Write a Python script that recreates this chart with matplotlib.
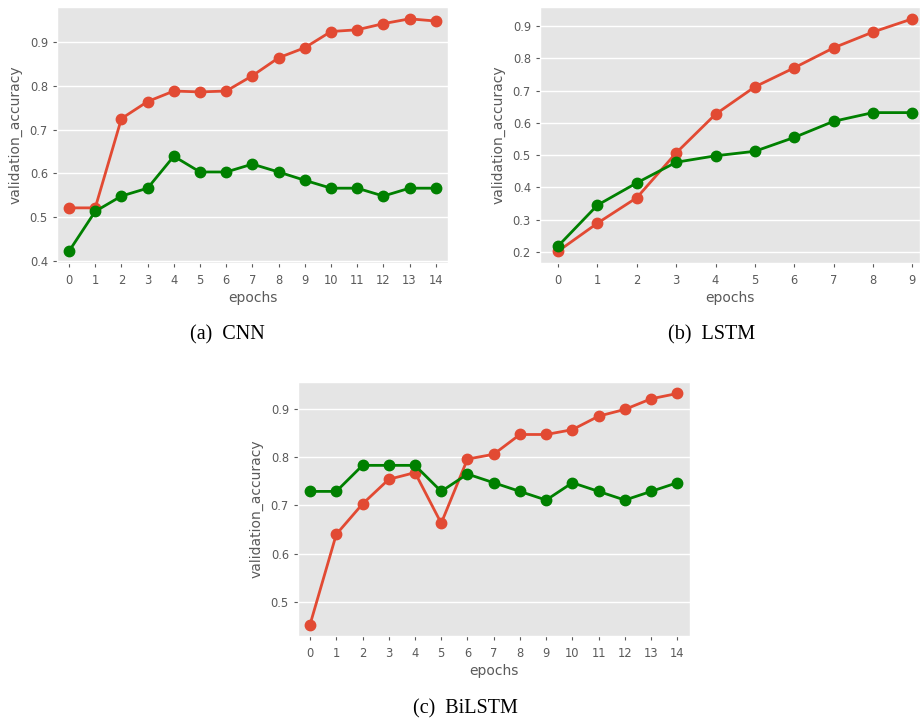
import numpy as np
import matplotlib
matplotlib.use('Agg')
import matplotlib.pyplot as plt

# validation accuracy
cnn_red = [0.521, 0.521, 0.725, 0.764, 0.788, 0.786, 0.788, 0.823, 0.864, 0.887,
           0.924, 0.928, 0.942, 0.953, 0.948]
cnn_green = [0.422, 0.513, 0.548, 0.566, 0.639, 0.603, 0.603, 0.621, 0.603, 0.584,
             0.566, 0.566, 0.548, 0.566, 0.566]

lstm_red = [0.202, 0.289, 0.368, 0.507, 0.627, 0.712, 0.771, 0.833, 0.882, 0.923]
lstm_green = [0.218, 0.345, 0.414, 0.478, 0.498, 0.512, 0.555, 0.605, 0.632, 0.632]

bilstm_red = [0.453, 0.640, 0.703, 0.754, 0.768, 0.663, 0.796, 0.806, 0.847, 0.847,
              0.857, 0.885, 0.899, 0.921, 0.932]
bilstm_green = [0.729, 0.729, 0.783, 0.783, 0.783, 0.729, 0.765, 0.747, 0.729, 0.711,
                0.747, 0.729, 0.711, 0.729, 0.747]

captions = ['(a)  CNN', '(b)  LSTM', '(c)  BiLSTM']

plt.style.use('ggplot')

fig = plt.figure(figsize=(9.22, 7.22), dpi=100)
fig.patch.set_facecolor('white')

ax_a = fig.add_axes([0.0618, 0.636, 0.4242, 0.354])
ax_b = fig.add_axes([0.5857, 0.636, 0.4123, 0.354])
ax_c = fig.add_axes([0.3232, 0.119, 0.4248, 0.352])


def draw(ax, red, green, right=None):
    x = np.arange(len(red))
    ax.plot(x, red, '-o', color='#E24A33', lw=2.0, markersize=7.5)
    ax.plot(x, green, '-o', color='green', lw=2.0, markersize=7.5)
    ax.set_xticks(x)
    ax.set_xticklabels([str(i) for i in x])
    ax.set_xlim(-0.46, right if right is not None else len(x) - 0.53)
    ax.grid(axis='x', visible=False)
    ax.grid(axis='y', color='white', lw=1)
    ax.tick_params(labelsize=8.3, colors='#5a5a5a', length=3)
    ax.tick_params(axis='x', pad=5)
    ax.set_xlabel('epochs', fontsize=10, color='#5a5a5a', labelpad=3)
    ax.set_ylabel('validation_accuracy', fontsize=10, color='#5a5a5a', labelpad=5)


draw(ax_a, cnn_red, cnn_green)
draw(ax_b, lstm_red, lstm_green, right=9.2)
draw(ax_c, bilstm_red, bilstm_green)

ax_a.set_yticks([0.4, 0.5, 0.6, 0.7, 0.8, 0.9])
ax_b.set_yticks([0.2, 0.3, 0.4, 0.5, 0.6, 0.7, 0.8, 0.9])
ax_c.set_yticks([0.5, 0.6, 0.7, 0.8, 0.9])

cap_font = dict(fontsize=14.5, family=['Liberation Serif', 'DejaVu Serif'],
                ha='center', va='center', color='black')
fig.text(0.247, 0.536, captions[0], **cap_font)
fig.text(0.772, 0.536, captions[1], **cap_font)
fig.text(0.505, 0.018, captions[2], **cap_font)

fig.savefig('out.png', dpi=100, facecolor='white')
